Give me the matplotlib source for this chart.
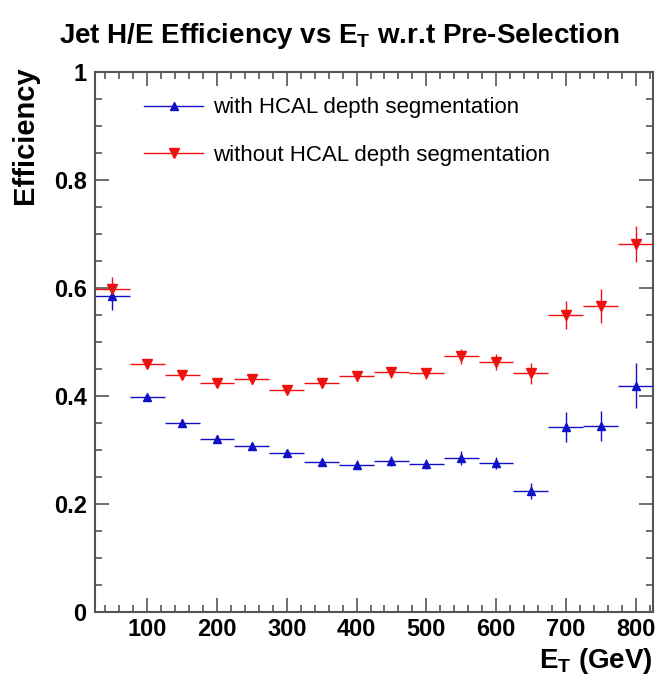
import numpy as np
import matplotlib.pyplot as plt
from matplotlib.lines import Line2D
from matplotlib.ticker import MultipleLocator

plt.rcParams['font.family'] = ['Liberation Sans', 'DejaVu Sans']

# bin centres (GeV), bins are 50 GeV wide
et = [50, 100, 150, 200, 250, 300, 350, 400, 450, 500, 550, 600, 650, 700, 750, 800]
bin_half = 25

eff_with = [0.585, 0.398, 0.350, 0.320, 0.308, 0.294, 0.278, 0.273, 0.280, 0.274,
            0.286, 0.276, 0.224, 0.342, 0.344, 0.419]
err_with = [0.025, 0.006, 0.007, 0.007, 0.007, 0.007, 0.008, 0.008, 0.009, 0.009,
            0.013, 0.012, 0.015, 0.028, 0.028, 0.042]

eff_without = [0.598, 0.459, 0.439, 0.424, 0.431, 0.412, 0.425, 0.437, 0.444, 0.442,
               0.474, 0.463, 0.442, 0.550, 0.567, 0.681]
err_without = [0.022, 0.007, 0.008, 0.008, 0.008, 0.008, 0.009, 0.009, 0.010, 0.010,
               0.014, 0.015, 0.020, 0.026, 0.031, 0.033]

blue = '#1010c8'
red = '#f01010'

fig = plt.figure(figsize=(6.62, 6.75), dpi=100)
ax = fig.add_axes([0.1435, 0.0933, 0.8429, 0.8])

ax.errorbar(et, eff_with, xerr=bin_half, yerr=err_with, fmt='^', color=blue,
            ms=5.5, elinewidth=1.0, capsize=0, zorder=3)
ax.errorbar(et, eff_without, xerr=bin_half, yerr=err_without, fmt='v', color=red,
            ms=6.5, elinewidth=1.0, capsize=0, zorder=3)

ax.set_xlim(25, 825)
ax.set_ylim(0, 1)
ax.xaxis.set_major_locator(MultipleLocator(100))
ax.xaxis.set_minor_locator(MultipleLocator(20))
ax.yaxis.set_major_locator(MultipleLocator(0.2))
ax.yaxis.set_minor_locator(MultipleLocator(0.05))
ax.yaxis.set_major_formatter(plt.FuncFormatter(lambda v, p: f'{v:g}'))

for s in ax.spines.values():
    s.set_color('#555555')
    s.set_linewidth(1.5)
ax.tick_params(which='both', direction='in', top=True, right=True,
               color='#555555', width=1.2, labelsize=17)
ax.tick_params(which='major', length=10)
ax.tick_params(which='minor', length=5)
for lab in ax.get_xticklabels() + ax.get_yticklabels():
    lab.set_fontweight('bold')
ax.tick_params(axis='x', pad=4)
ax.tick_params(axis='y', pad=6)

fig.text(0.512, 0.947, r'Jet H/E Efficiency vs E$_\mathregular{T}$ w.r.t Pre-Selection',
         ha='center', va='center', fontsize=20, fontweight='bold')
ax.set_ylabel('Efficiency', fontsize=21, fontweight='bold', loc='top')
ax.yaxis.set_label_coords(-0.10, 1.01)
ax.set_xlabel(r'E$_\mathregular{T}$ (GeV)', fontsize=20, fontweight='bold', loc='right')
ax.xaxis.set_label_coords(1.0, -0.062)

handles = [Line2D([], [], color=blue, marker='^', ms=5.5, lw=1.0),
           Line2D([], [], color=red, marker='v', ms=6.5, lw=1.0)]
ax.legend(handles, ['with HCAL depth segmentation', 'without HCAL depth segmentation'],
          loc='upper left', bbox_to_anchor=(0.0525, 0.99), frameon=False,
          fontsize=16, handlelength=2.65, handletextpad=0.45, labelspacing=1.18)

fig.savefig('out.png', dpi=100)
